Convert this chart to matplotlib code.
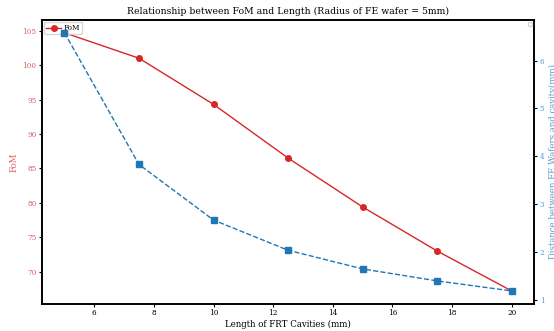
import matplotlib
matplotlib.use("Agg")
import matplotlib.pyplot as plt

lengths = [5, 7.5, 10, 12.5, 15, 17.5, 20]
fom = [104.7, 101.0, 94.3, 86.5, 79.4, 73.0, 67.2]
distance = [6.58, 3.83, 2.67, 2.04, 1.65, 1.40, 1.19]

plt.rcParams.update({
    "font.family": "DejaVu Serif",
    "axes.linewidth": 1.2,
})

fig, ax1 = plt.subplots(figsize=(5.54, 3.31), dpi=100)
fig.subplots_adjust(left=0.076, right=0.964, top=0.94, bottom=0.082)

ax1.plot(lengths, fom, color="#d62728", marker="o", markersize=4, linewidth=1, label="FoM")
ax1.set_xlabel("Length of FRT Cavities (mm)", fontsize=6.2, labelpad=1.5)
ax1.set_ylabel("FoM", color="#e06060", fontsize=6.2, labelpad=3)
ax1.tick_params(axis="y", labelcolor="#e06060", labelsize=5.2, length=2, pad=2)
ax1.tick_params(axis="x", labelsize=5.2, length=2, pad=2)
ax1.set_title("Relationship between FoM and Length (Radius of FE wafer = 5mm)", fontsize=6.7, pad=4)
ax1.legend(loc="upper left", fontsize=5.2, handlelength=2, borderpad=0.3,
           handletextpad=0.3, borderaxespad=0.3)

ax2 = ax1.twinx()
ax2.plot(lengths, distance, color="#1f77b4", marker="s", markersize=4, linewidth=1, linestyle="--")
ax2.set_ylabel("Distance between FE Wafers and cavity(mm)", color="#5a9bd0", fontsize=6.2, labelpad=3)
ax2.tick_params(axis="y", labelcolor="#5a9bd0", labelsize=5.2, length=2, pad=2)
ax2.legend(loc="upper right", fontsize=5.2, borderpad=0.3, borderaxespad=0.3)

fig.savefig("out.png", dpi=100)
